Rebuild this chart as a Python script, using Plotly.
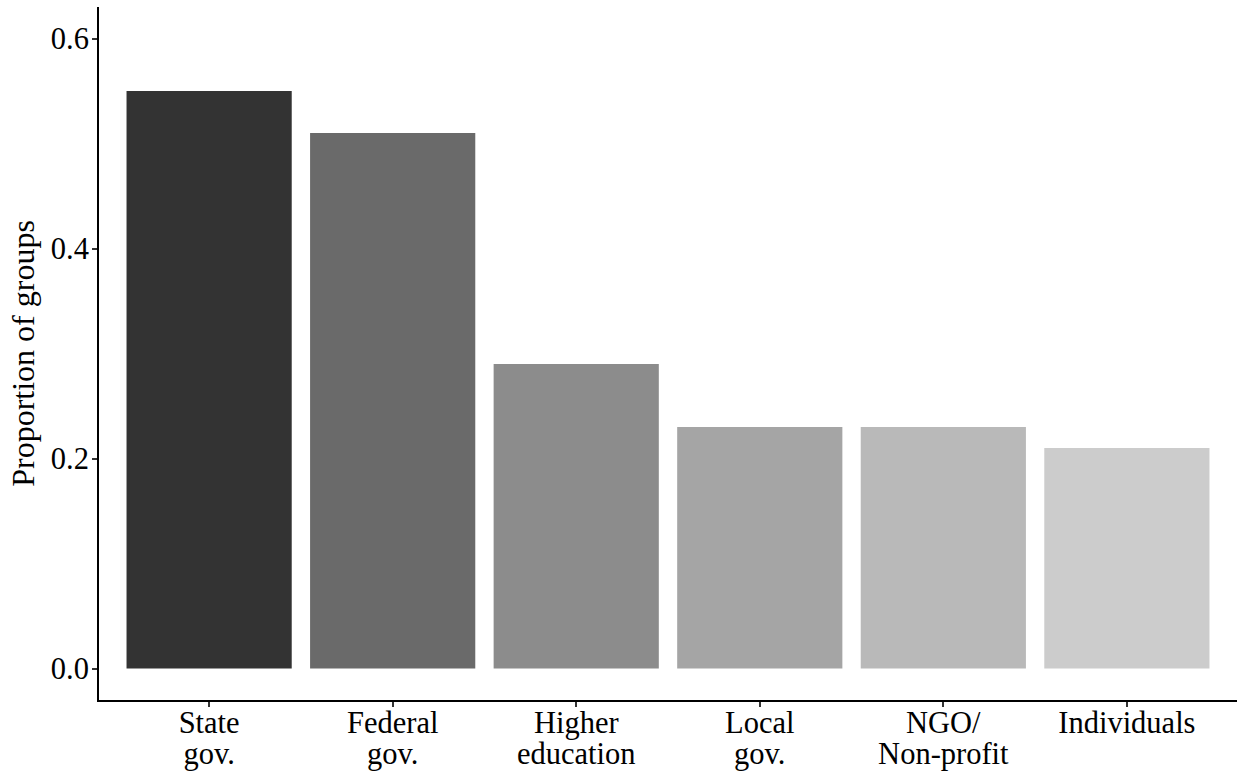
import plotly.graph_objects as go

categories_line1 = ["State", "Federal", "Higher", "Local", "NGO/", "Individuals"]
categories_line2 = ["gov.", "gov.", "education", "gov.", "Non-profit", ""]
proportions = [0.55, 0.51, 0.29, 0.23, 0.23, 0.21]
bar_colors = ["#333333", "#6a6a6a", "#8c8c8c", "#a5a5a5", "#b9b9b9", "#cccccc"]
y_ticks = [0.0, 0.2, 0.4, 0.6]
y_tick_labels = ["0.0", "0.2", "0.4", "0.6"]

positions = list(range(len(categories_line1)))

fig = go.Figure()
fig.add_trace(go.Bar(
    x=positions,
    y=proportions,
    marker=dict(color=bar_colors, line=dict(width=0)),
    width=0.9,
    hoverinfo="y",
))
# invisible helper trace for the second line of category labels
fig.add_trace(go.Scatter(
    x=positions, y=proportions, xaxis="x2", mode="markers",
    marker=dict(opacity=0), hoverinfo="skip", showlegend=False,
))

font_family = "Liberation Serif, Times New Roman, serif"
tick_font = dict(size=30.5, family=font_family, color="black")
fig.update_layout(
    width=1238, height=771,
    margin=dict(l=99, r=1, t=7, b=71),
    paper_bgcolor="white", plot_bgcolor="white",
    font=dict(family=font_family, color="black", size=30),
    showlegend=False,
    xaxis=dict(
        range=[-0.6, 5.6],
        tickmode="array",
        tickvals=positions,
        ticktext=categories_line1,
        showline=True, linecolor="black", linewidth=2,
        ticks="outside", ticklen=5, tickwidth=1.5, tickcolor="#333333",
        tickfont=tick_font, ticklabelstandoff=-11,
        showgrid=False, zeroline=False, automargin=False,
    ),
    xaxis2=dict(
        range=[-0.6, 5.6],
        overlaying="x", side="bottom", anchor="y",
        tickmode="array",
        tickvals=positions,
        ticktext=categories_line2,
        showline=False, ticks="", ticklabelstandoff=32,
        tickfont=tick_font,
        showgrid=False, zeroline=False, automargin=False,
    ),
    yaxis=dict(
        range=[-0.03, 0.63],
        tickmode="array",
        tickvals=y_ticks,
        ticktext=y_tick_labels,
        showline=True, linecolor="black", linewidth=2,
        ticks="outside", ticklen=5, tickwidth=1.5, tickcolor="#333333",
        tickfont=tick_font, ticklabelstandoff=-3,
        showgrid=False, zeroline=False, automargin=False,
        title=dict(text="Proportion of groups", font=dict(size=32, family=font_family, color="black"), standoff=7),
    ),
)

fig.write_html("out.html", config={"displayModeBar": False},
               post_script="document.body.style.margin='0';document.body.style.overflow='hidden';")
